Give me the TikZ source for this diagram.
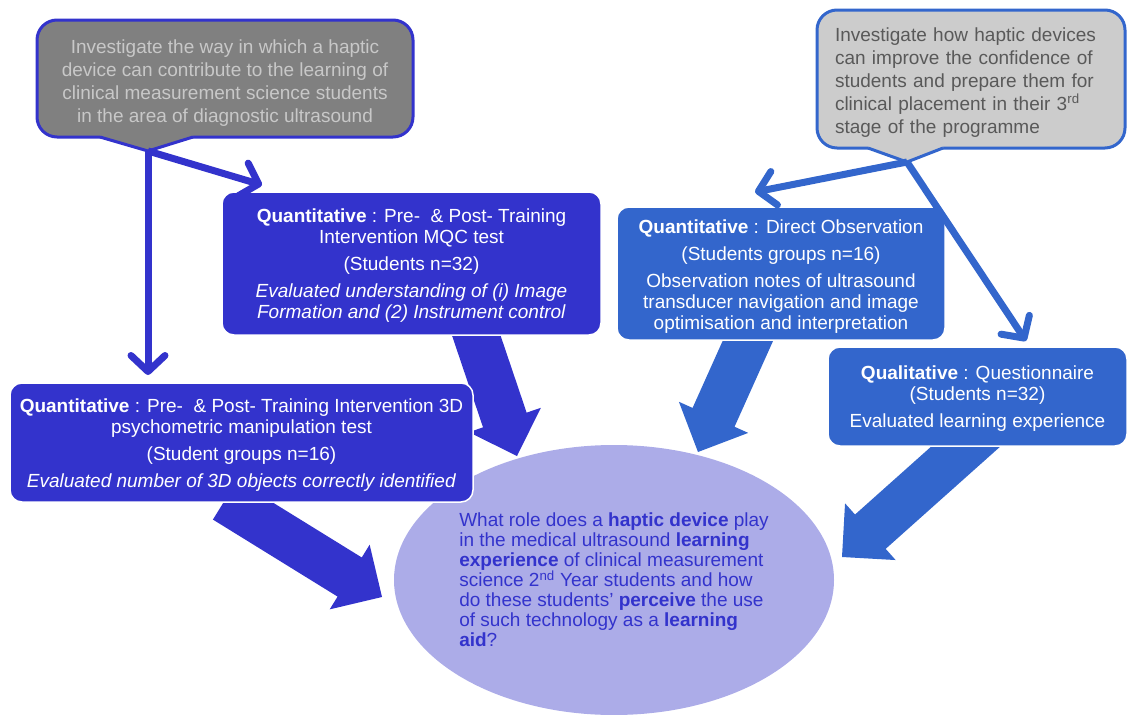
\documentclass[tikz,border=0pt]{standalone}
\usepackage{fontspec}
\setmainfont{Liberation Sans}
\usetikzlibrary{arrows.meta,calc,shapes.geometric}
\definecolor{dblue}{RGB}{51,51,204}
\definecolor{mblue}{RGB}{51,102,204}
\definecolor{dgray}{RGB}{128,128,128}
\definecolor{lgray}{RGB}{204,204,204}
\definecolor{ltext}{RGB}{200,200,200}
\definecolor{gtext}{RGB}{89,89,89}
\definecolor{lav}{RGB}{172,172,232}
\newcommand\blockarr[3]{%
  \coordinate (#2-hb) at ($(#3)!38pt!(#2)$);
  \fill[#1] ($(#2)!23pt!90:(#3)$) -- ($(#2-hb)!23pt!90:(#3)$) -- ($(#2-hb)!38pt!90:(#3)$) -- (#3)
    -- ($(#2-hb)!38pt!-90:(#3)$) -- ($(#2-hb)!23pt!-90:(#3)$) -- ($(#2)!23pt!-90:(#3)$) -- cycle;}
\newcommand\upstrut[1]{\rule{0pt}{#1}}
\tikzset{
  boxnode/.style={font=\fontsize{19}{21}\selectfont, text=white, align=center,
    rounded corners=12pt, draw=white, line width=1.5pt, inner sep=0pt},
  callnode/.style={font=\fontsize{19}{23}\selectfont, rounded corners=20pt, line width=3pt},
  larrow/.style={line width=7pt, -{Straight Barb[length=16pt,width=34pt,round]}},
}
\begin{document}
\begin{tikzpicture}[x=1pt,y=-1pt]
\useasboundingbox (0,0) rectangle (1128,715);
% central ellipse
\node[ellipse, fill=lav, minimum width=440pt, minimum height=270pt, inner sep=0pt,
  align=left, text=dblue, font=\fontsize{19}{20}\selectfont] (el) at (614,580)
  {What role does a \textbf{haptic device} play\\
   in the medical ultrasound \textbf{learning}\\
   \textbf{experience} of clinical measurement\\
   science 2\textsuperscript{nd} Year students and how\\
   do these students’ \textbf{perceive} the use\\
   of such technology as a \textbf{learning}\\
   \textbf{aid}?};
% block arrows
\coordinate (a1s) at (225,500); \coordinate (a1t) at (382,597);
\coordinate (a2s) at (469,314); \coordinate (a2t) at (517,456);
\coordinate (a3s) at (755,325); \coordinate (a3t) at (698,452);
\coordinate (a4s) at (991,424); \coordinate (a4t) at (842,557);
\blockarr{dblue}{a1s}{a1t}
\blockarr{dblue}{a2s}{a2t}
\blockarr{mblue}{a3s}{a3t}
\blockarr{mblue}{a4s}{a4t}
% boxes
\node[boxnode, fill=dblue, minimum width=379pt, minimum height=143pt] (q1) at (411.5,263.5)
  {\upstrut{18pt}\textbf{Quantitative} : Pre-~ \& Post- Training\\
   Intervention MQC test\\[6pt]
   (Students n=32)\\[6pt]
   \textit{Evaluated understanding of (i) Image}\\
   \textit{Formation and (2) Instrument control}};
\node[boxnode, fill=mblue, minimum width=328pt, minimum height=133pt] (q2) at (781,273.5)
  {\upstrut{19pt}\textbf{Quantitative} : Direct Observation\\[6pt]
   (Students groups n=16)\\[6pt]
   Observation notes of ultrasound\\
   transducer navigation and image\\
   optimisation and interpretation};
\node[boxnode, fill=mblue, minimum width=299pt, minimum height=99pt] (ql) at (977.5,396.5)
  {\upstrut{18pt}\textbf{Qualitative} : Questionnaire\\
   (Students n=32)\\[6pt]
   Evaluated learning experience};
\node[boxnode, fill=dblue, minimum width=463pt, minimum height=119pt] (q3) at (241.5,442.5)
  {\upstrut{19pt}\textbf{Quantitative} : Pre-~ \& Post- Training Intervention 3D\\
   psychometric manipulation test\\[6pt]
   (Student groups n=16)\\[6pt]
   \textit{Evaluated number of 3D objects correctly identified}};
% callouts
\node[callnode, fill=dgray, draw=dblue, text=ltext, align=center,
  minimum width=376pt, minimum height=117pt, inner sep=0pt] (tlc) at (225,78.5)
  {\upstrut{22pt}Investigate the way in which a haptic\\
   device can contribute to the learning of\\
   clinical measurement science students\\
   in the area of diagnostic ultrasound};
\coordinate (tl) at (148,151);
\fill[dgray] (100,133) -- (193,133) -- (193,137) -- (tl) -- (100,137) -- cycle;
\draw[dblue, line width=3pt, line join=round] (100,137) -- (tl) -- (193,137);
\node[callnode, fill=lgray, draw=mblue, text=gtext, align=left, text width=272pt,
  inner xsep=18pt, inner ysep=0pt, minimum height=138pt] (trc) at (971,79)
  {\upstrut{20pt}Investigate how haptic devices\\
   can improve the confidence of\\
   students and prepare them for\\
   clinical placement in their 3\textsuperscript{rd}\\
   stage of the programme};
\coordinate (tr) at (907,162);
\fill[lgray] (868,144) -- (943,144) -- (943,148) -- (tr) -- (868,148) -- cycle;
\draw[mblue, line width=3pt, line join=round] (868,148) -- (tr) -- (943,148);
% line arrows
\coordinate (la1) at (148,375);
\coordinate (la2) at (262,185);
\coordinate (ra1) at (755,192);
\coordinate (ra2) at (1026,341);
\draw[larrow, dblue] (tl) -- (la1);
\draw[larrow, dblue] (tl) -- (la2);
\draw[larrow, mblue] (tr) -- (ra1);
\draw[larrow, mblue] (tr) -- (ra2);
\end{tikzpicture}
\end{document}
